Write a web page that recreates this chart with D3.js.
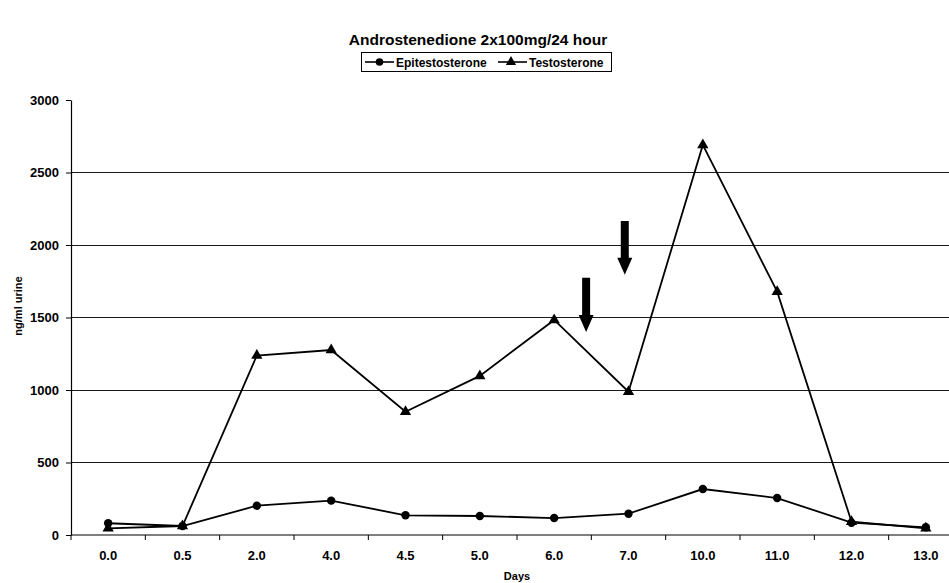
<!DOCTYPE html>
<html>
<head>
<meta charset="utf-8">
<script src="https://cdn.jsdelivr.net/npm/d3@7/dist/d3.min.js"></script>
<style>
  html, body { margin: 0; padding: 0; background: #fff; }
  svg { display: block; font-family: Arial, "Liberation Sans", sans-serif; }
</style>
</head>
<body>
<svg id="chart" width="949" height="583"></svg>
<script>
// Sampling days (categorical axis)
const days = ["0.0", "0.5", "2.0", "4.0", "4.5", "5.0", "6.0", "7.0", "10.0", "11.0", "12.0", "13.0"];
// Urinary concentrations, ng/ml
const epitestosterone = [81, 62, 202, 237, 136, 131, 117, 147, 317, 255, 85, 53];
const testosterone    = [46, 62, 1238, 1276, 850, 1097, 1483, 988, 2690, 1678, 92, 46];
const yTicks = [0, 500, 1000, 1500, 2000, 2500, 3000];
// Dosing markers: category, fraction across its band, arrow tail / head values
const doseArrows = [
  { day: "6.0", at: 0.93, from: 1775, to: 1400 },
  { day: "7.0", at: 0.45, from: 2165, to: 1795 }
];

const svg = d3.select("#chart");
const plot = { left: 71, right: 963, top: 100, bottom: 535 };

const x = d3.scaleBand().domain(days).range([plot.left, plot.right]).padding(0);
const y = d3.scaleLinear().domain([0, 3000]).range([plot.bottom, plot.top]);
const cx = d => x(d) + x.bandwidth() / 2;

// Horizontal gridlines
svg.append("g")
  .selectAll("line")
  .data(yTicks.filter(v => v > 0 && v < 3000))
  .join("line")
  .attr("x1", plot.left).attr("x2", plot.right)
  .attr("y1", d => y(d)).attr("y2", d => y(d))
  .attr("stroke", "#1a1a1a").attr("stroke-width", 1)
  .attr("shape-rendering", "crispEdges");

// Y axis
const yAxis = svg.append("g")
  .attr("transform", `translate(${plot.left},0)`)
  .call(d3.axisLeft(y).tickValues(yTicks).tickSize(5).tickSizeOuter(0).tickPadding(7).tickFormat(d3.format("d")));
yAxis.select(".domain").attr("stroke", "#000").attr("stroke-width", 1.2);
yAxis.selectAll(".tick line").attr("stroke", "#000");
yAxis.selectAll("text").attr("font-size", 13).attr("font-weight", "bold").attr("fill", "#000").attr("font-family", "Arial, 'Liberation Sans', sans-serif");

// X axis: ticks sit on band boundaries, labels at band centres
const xg = svg.append("g").attr("transform", `translate(0,${plot.bottom})`);
xg.append("line")
  .attr("x1", plot.left).attr("x2", plot.right)
  .attr("stroke", "#000").attr("stroke-width", 1.2);
const bounds = days.map(d => x(d)).concat([x(days[days.length - 1]) + x.bandwidth()]);
xg.selectAll("line.tk")
  .data(bounds)
  .join("line").attr("class", "tk")
  .attr("x1", d => d).attr("x2", d => d)
  .attr("y1", 0).attr("y2", 5)
  .attr("stroke", "#000");
xg.selectAll("text")
  .data(days)
  .join("text")
  .attr("x", d => cx(d)).attr("y", 25)
  .attr("text-anchor", "middle")
  .attr("font-size", 13).attr("font-weight", "bold")
  .text(d => d);

// Axis titles
svg.append("text")
  .attr("x", (plot.left + plot.right) / 2).attr("y", 580)
  .attr("text-anchor", "middle")
  .attr("font-size", 11).attr("font-weight", "bold")
  .text("Days");
svg.append("text")
  .attr("transform", `translate(22,306) rotate(-90)`)
  .attr("text-anchor", "middle")
  .attr("font-size", 11).attr("font-weight", "bold")
  .text("ng/ml urine");

// Title
svg.append("text")
  .attr("x", 478).attr("y", 45)
  .attr("text-anchor", "middle")
  .attr("font-size", 15.5).attr("font-weight", "bold")
  .text("Androstenedione 2x100mg/24 hour");

// Series
const line = d3.line().x((d, i) => cx(days[i])).y(d => y(d));
const triangle = d3.symbol().type(d3.symbolTriangle).size(55);

function drawSeries(values, marker) {
  const g = svg.append("g");
  g.append("path")
    .datum(values)
    .attr("d", line)
    .attr("fill", "none").attr("stroke", "#000").attr("stroke-width", 1.8);
  if (marker === "circle") {
    g.selectAll("circle").data(values).join("circle")
      .attr("cx", (d, i) => cx(days[i])).attr("cy", d => y(d))
      .attr("r", 4.2).attr("fill", "#000");
  } else {
    g.selectAll("path.m").data(values).join("path").attr("class", "m")
      .attr("d", triangle)
      .attr("transform", (d, i) => `translate(${cx(days[i])},${y(d)})`)
      .attr("fill", "#000");
  }
}
drawSeries(testosterone, "triangle");
drawSeries(epitestosterone, "circle");

// Dosing arrows
const arrows = svg.append("g");
doseArrows.forEach(a => {
  const ax = x(a.day) + a.at * x.bandwidth();
  const yTail = y(a.from), yTip = y(a.to);
  const headLen = 17, shaftHalf = 4, headHalf = 7.5;
  arrows.append("path")
    .attr("d", `M${ax - shaftHalf},${yTail} L${ax + shaftHalf},${yTail} L${ax + shaftHalf},${yTip - headLen}
      L${ax + headHalf},${yTip - headLen} L${ax},${yTip} L${ax - headHalf},${yTip - headLen}
      L${ax - shaftHalf},${yTip - headLen} Z`)
    .attr("fill", "#000");
});

// Legend
const lg = svg.append("g");
lg.append("rect")
  .attr("x", 361.5).attr("y", 52.5).attr("width", 250).attr("height", 19)
  .attr("fill", "#fff").attr("stroke", "#000").attr("stroke-width", 1);
const legendItems = [
  { name: "Epitestosterone", marker: "circle", x0: 365 },
  { name: "Testosterone", marker: "triangle", x0: 498 }
];
legendItems.forEach(it => {
  const ly = 62;
  lg.append("line").attr("x1", it.x0).attr("x2", it.x0 + 29)
    .attr("y1", ly).attr("y2", ly).attr("stroke", "#000").attr("stroke-width", 1.6);
  if (it.marker === "circle") {
    lg.append("circle").attr("cx", it.x0 + 14.5).attr("cy", ly).attr("r", 3.8).attr("fill", "#000");
  } else {
    lg.append("path").attr("d", d3.symbol().type(d3.symbolTriangle).size(45))
      .attr("transform", `translate(${it.x0 + 13},${ly})`).attr("fill", "#000");
  }
  lg.append("text").attr("x", it.x0 + 31).attr("y", ly + 4.5)
    .attr("font-size", 12).attr("font-weight", "bold").text(it.name);
});
</script>
</body>
</html>
